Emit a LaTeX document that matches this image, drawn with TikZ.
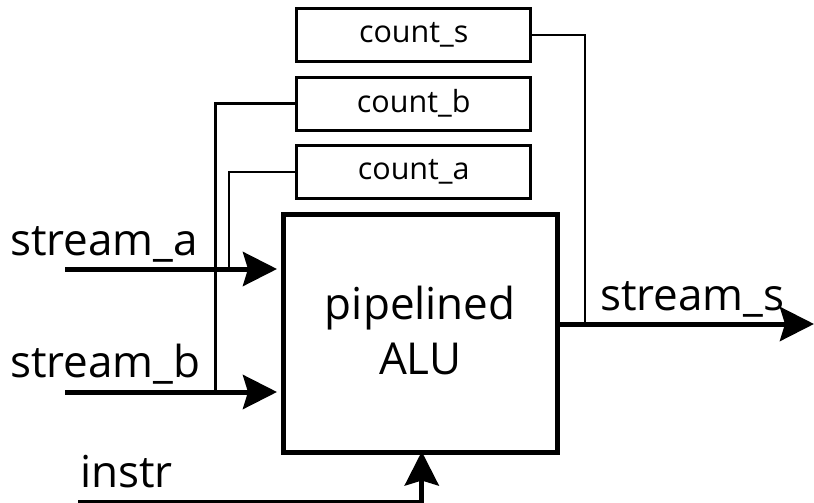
\documentclass[tikz,border=0pt]{standalone}
\usepackage{fontspec}
\setmainfont{Open Sans}
\usetikzlibrary{arrows.meta}
\begin{document}
\begin{tikzpicture}[x=1pt,y=-1pt,
  reg/.style={draw, line width=2.8pt, minimum width=234pt, minimum height=53pt, inner sep=0pt, outer sep=0pt, font=\fontsize{30.5}{36}\selectfont},
  alu/.style={draw, line width=5pt, minimum width=274.5pt, minimum height=238.5pt, inner sep=0pt, outer sep=0pt, align=center, font=\fontsize{44}{55}\selectfont},
  bus/.style={line width=5pt, -{Stealth[length=34pt,width=34pt,inset=5pt]}},
  wire/.style={line width=2.8pt},
  lbl/.style={font=\fontsize{44}{50}\selectfont, inner sep=0pt, anchor=base west}]
\useasboundingbox (0,0) rectangle (814,503);

% registers
\node[reg] (cs) at (413.7,35) {count\_s};
\node[reg] (cb) at (413.7,103.7) {count\_b};
\node[reg] (ca) at (413.7,172) {count\_a};

% ALU
\node[alu] (alu) at (420.25,333.25) {pipelined\\ALU\rule[-5.5pt]{0pt}{5.5pt}};

% free ends and junctions
\coordinate (ain) at (65,269);
\coordinate (bin) at (65,392);
\coordinate (iin) at (78,502.5);
\coordinate (sout) at (814,324);
\coordinate (ja) at (229,269);
\coordinate (jb) at (215.7,392);
\coordinate (js) at (585,324);

% buses
\draw[bus, shorten >=6pt] (ain) -- (ain -| alu.west);
\draw[bus, shorten >=6pt] (bin) -- (bin -| alu.west);
\draw[bus] (sout -| alu.east) -- (sout);
\draw[bus, shorten >=-1pt] (iin) -| ([xshift=1.5pt]alu.south);

% register wires
\draw[wire] (cs.east) -| (js);
\draw[wire] (cb.west) -| (jb);
\draw[wire] (ca.west) -| (ja);

% labels
\node[lbl] (la) at (10,255) {stream\_a};
\node[lbl] (lb) at (10,377) {stream\_b};
\node[lbl] (li) at (80,487) {instr};
\node[lbl] (ls) at (600,310) {stream\_s};
\end{tikzpicture}
\end{document}
